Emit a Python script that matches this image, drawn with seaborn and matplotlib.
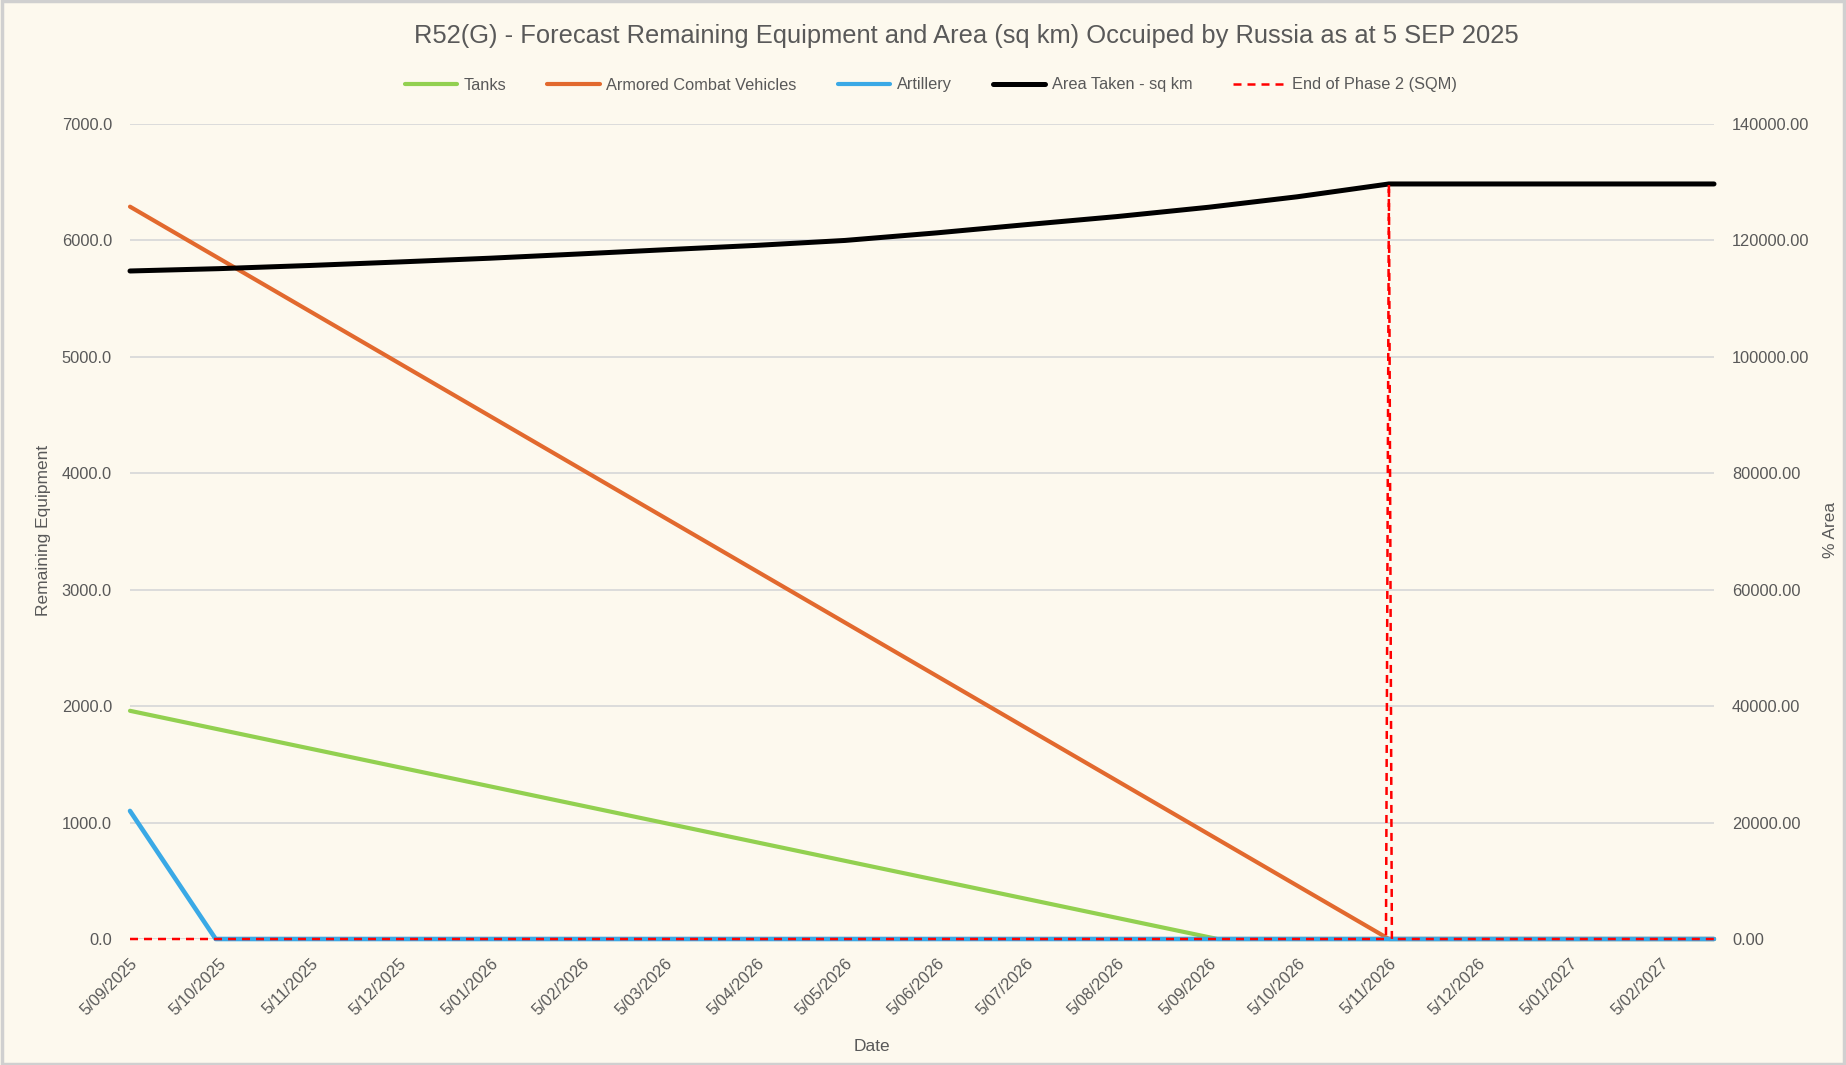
import matplotlib
matplotlib.use("Agg")
import matplotlib.pyplot as plt
from matplotlib.ticker import MultipleLocator, FuncFormatter
from matplotlib.lines import Line2D
from matplotlib.patches import Rectangle
import seaborn as sns
import pandas as pd

# ---------------- data ----------------
tank_dates = ["2025-09-05", "2026-09-08", "2027-02-23"]
tank_vals = [1960, 0, 0]

acv_dates = ["2025-09-05", "2026-11-05", "2027-02-23"]
acv_vals = [6290, 0, 0]

art_dates = ["2025-09-05", "2025-10-04", "2027-02-23"]
art_vals = [1100, 0, 0]

area_dates = ["2025-09-05", "2025-10-05", "2025-11-05", "2025-12-05", "2026-01-05",
              "2026-02-05", "2026-03-05", "2026-04-05", "2026-05-05", "2026-06-05",
              "2026-07-05", "2026-08-05", "2026-09-05", "2026-10-05", "2026-11-05",
              "2027-02-23"]
area_vals = [114750, 115150, 115700, 116300, 116950,
             117700, 118400, 119150, 120000, 121300,
             122700, 124100, 125700, 127500, 129700,
             129700]

phase_dates = ["2025-09-05", "2026-11-04", "2026-11-05", "2026-11-06", "2027-02-23"]
phase_vals = [0, 0, 129700, 0, 0]

x_start, x_end = "2025-09-05", "2027-02-23"
tick_dates = ["2025-09-05", "2025-10-05", "2025-11-05", "2025-12-05", "2026-01-05",
              "2026-02-05", "2026-03-05", "2026-04-05", "2026-05-05", "2026-06-05",
              "2026-07-05", "2026-08-05", "2026-09-05", "2026-10-05", "2026-11-05",
              "2026-12-05", "2027-01-05", "2027-02-05"]

title = "R52(G) - Forecast Remaining Equipment and Area (sq km) Occuiped by Russia as at 5 SEP 2025"

# ---------------- style ----------------
sns.set_theme(style="white")
BG = "#FDF9EE"
TXT = "#595959"
GRID = "#D9D9D9"
REG = ["Liberation Sans", "DejaVu Sans"]
plt.rcParams["font.family"] = REG

C_TANK = "#92D050"
C_ACV = "#E2692E"
C_ART = "#3AA9E6"
C_AREA = "#000000"
C_PHASE = "#FF0000"

fig = plt.figure(figsize=(18.46, 10.65), dpi=100, facecolor=BG)
ax = fig.add_axes([130 / 1846, 1 - 939 / 1065, (1714 - 130) / 1846, (939 - 124) / 1065])
ax.set_facecolor(BG)
ax2 = ax.twinx()

def frame(d, v, name):
    return pd.DataFrame({"date": pd.to_datetime(d), "value": v, "series": name})

df_t = frame(tank_dates, tank_vals, "Tanks")
df_a = frame(acv_dates, acv_vals, "Armored Combat Vehicles")
df_r = frame(art_dates, art_vals, "Artillery")
df_area = frame(area_dates, area_vals, "Area Taken - sq km")
df_ph = frame(phase_dates, phase_vals, "End of Phase 2 (SQM)")

lw_eq = 3.0
sns.lineplot(data=df_t, x="date", y="value", ax=ax, color=C_TANK, lw=lw_eq, legend=False)
sns.lineplot(data=df_a, x="date", y="value", ax=ax, color=C_ACV, lw=lw_eq, legend=False)
sns.lineplot(data=df_r, x="date", y="value", ax=ax, color=C_ART, lw=lw_eq + 0.3, legend=False)

sns.lineplot(data=df_area, x="date", y="value", ax=ax2, color=C_AREA, lw=3.6, legend=False,
             solid_capstyle="round")
sns.lineplot(data=df_ph, x="date", y="value", ax=ax2, color=C_PHASE, lw=1.8, legend=False)
ax2.lines[-1].set_dashes((3.2, 2.4))

for a in (ax, ax2):
    for ln in a.lines:
        ln.set_clip_on(False)

# axes limits / ticks
ax.set_xlim(pd.Timestamp(x_start), pd.Timestamp(x_end))
ax.set_ylim(0, 7000)
ax2.set_ylim(0, 140000)
ax.yaxis.set_major_locator(MultipleLocator(1000))
ax2.yaxis.set_major_locator(MultipleLocator(20000))
ax.yaxis.set_major_formatter(FuncFormatter(lambda v, p: f"{v:.1f}"))
ax2.yaxis.set_major_formatter(FuncFormatter(lambda v, p: f"{v:.2f}"))

ticks = pd.to_datetime(tick_dates)
ax.set_xticks(ticks)
ax.set_xticklabels([f"{d.day}/{d.month:02d}/{d.year}" for d in ticks])
for lab in ax.get_xticklabels():
    lab.set_rotation(45)
    lab.set_ha("right")
    lab.set_va("top")
    lab.set_rotation_mode("anchor")

for a in (ax, ax2):
    for s in a.spines.values():
        s.set_visible(False)
    a.tick_params(length=0, labelsize=11.8, labelcolor=TXT)
ax.tick_params(axis="y", pad=13)
ax2.tick_params(axis="y", pad=13)
ax.tick_params(axis="x", pad=12)

ax.yaxis.grid(True, color=GRID, lw=1.3)
ax.xaxis.grid(False)
ax2.grid(False)
ax.set_axisbelow(True)

ax.set_xlabel("Date", fontsize=12.5, color=TXT)
ax.set_ylabel("Remaining Equipment", fontsize=12.5, color=TXT)
ax2.set_ylabel("% Area", fontsize=12.5, color=TXT)
ax.xaxis.set_label_coords((872 - 130) / (1714 - 130), -(1039 - 939) / (939 - 124))
ax.yaxis.set_label_coords(-(130 - 51) / (1714 - 130), (939 - 530) / (939 - 124))
ax2.yaxis.set_label_coords((1823 - 130) / (1714 - 130), (939 - 530) / (939 - 124))

fig.text(966 / 1846, 1 - 36 / 1065, title, ha="center", va="center",
         fontsize=18.4, color=TXT)

handles = [
    Line2D([], [], color=C_TANK, lw=lw_eq),
    Line2D([], [], color=C_ACV, lw=lw_eq),
    Line2D([], [], color=C_ART, lw=lw_eq),
    Line2D([], [], color=C_AREA, lw=3.6),
    Line2D([], [], color=C_PHASE, lw=1.8, dashes=(3.2, 2.4)),
]
labels = ["Tanks", "Armored Combat Vehicles", "Artillery", "Area Taken - sq km",
          "End of Phase 2 (SQM)"]
leg = fig.legend(handles, labels, loc="center", bbox_to_anchor=(931 / 1846, 1 - 85 / 1065),
                 ncol=5, frameon=False, prop={"size": 11.8},
                 handlelength=3.2, columnspacing=2.5, handletextpad=0.4)
for t in leg.get_texts():
    t.set_color(TXT)

fig.patches.append(Rectangle((0.001, 0.001), 0.998, 0.998, transform=fig.transFigure,
                             fill=False, edgecolor="#D0D0D0", lw=2.5))

fig.savefig("out.png", dpi=100, facecolor=BG)
